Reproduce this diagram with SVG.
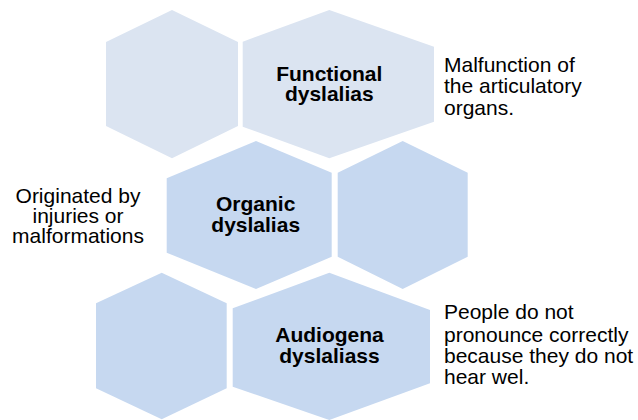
<svg xmlns="http://www.w3.org/2000/svg" width="638" height="420" viewBox="0 0 638 420">
<style>
.l1{fill:#DBE4F1}
.l2{fill:#C6D8F0}
.b{font-family:"Liberation Sans",Arial,sans-serif;font-weight:bold;font-size:21px;fill:#000;text-anchor:middle}
.t{font-family:"Liberation Sans",Arial,sans-serif;font-size:21px;fill:#000}
</style>
<rect width="638" height="420" fill="#fff"/>
<g id="hex-row1-small"><polygon class="l1" points="106,42 172,10 238,42 238,126 172,158.3 106,126"/></g>
<g id="functional">
<polygon class="l1" points="242.7,41.7 329.3,10 434,46.7 434,121.7 329.3,158.3 242.7,126.7"/>
<text class="b" x="329.3" y="81">Functional</text>
<text class="b" x="329.3" y="101">dyslalias</text>
</g>
<g id="functional-note"><text class="t" x="444" y="71.7">Malfunction of</text><text class="t" x="444" y="93.3">the articulatory</text><text class="t" x="444" y="115">organs.</text></g>
<g id="organic">
<polygon class="l2" points="166.7,178.3 256,141 331.7,172.7 331.7,256.7 256,289 166.7,252.7"/>
<text class="b" x="255.7" y="211">Organic</text>
<text class="b" x="255.7" y="231.7">dyslalias</text>
</g>
<g id="hex-row2-small"><polygon class="l2" points="337.7,172.7 402.7,141 467.7,172.7 467.7,256.7 402.7,289 337.7,256.7"/></g>
<g id="organic-note" text-anchor="middle"><text class="t" x="78" y="203.3">Originated by</text><text class="t" x="78" y="223">injuries or</text><text class="t" x="78" y="242.7">malformations</text></g>
<g id="hex-row3-small"><polygon class="l2" points="96,303.3 161.7,272.7 226.7,303.3 226.7,388.3 161.7,419.3 96,388.3"/></g>
<g id="audiogena">
<polygon class="l2" points="232.7,308.3 329.3,272.7 430,310 430,383.3 329.3,420 232.7,386.7"/>
<text class="b" x="329.5" y="341.7">Audiogena</text>
<text class="b" x="329.5" y="362.7">dyslaliass</text>
</g>
<g id="audiogena-note"><text class="t" x="444" y="319.3">People do not</text><text class="t" x="444" y="341.7">pronounce correctly</text><text class="t" x="444" y="362.7">because they do not</text><text class="t" x="444" y="384">hear wel.</text></g>
<g id="connectors"/>
</svg>
